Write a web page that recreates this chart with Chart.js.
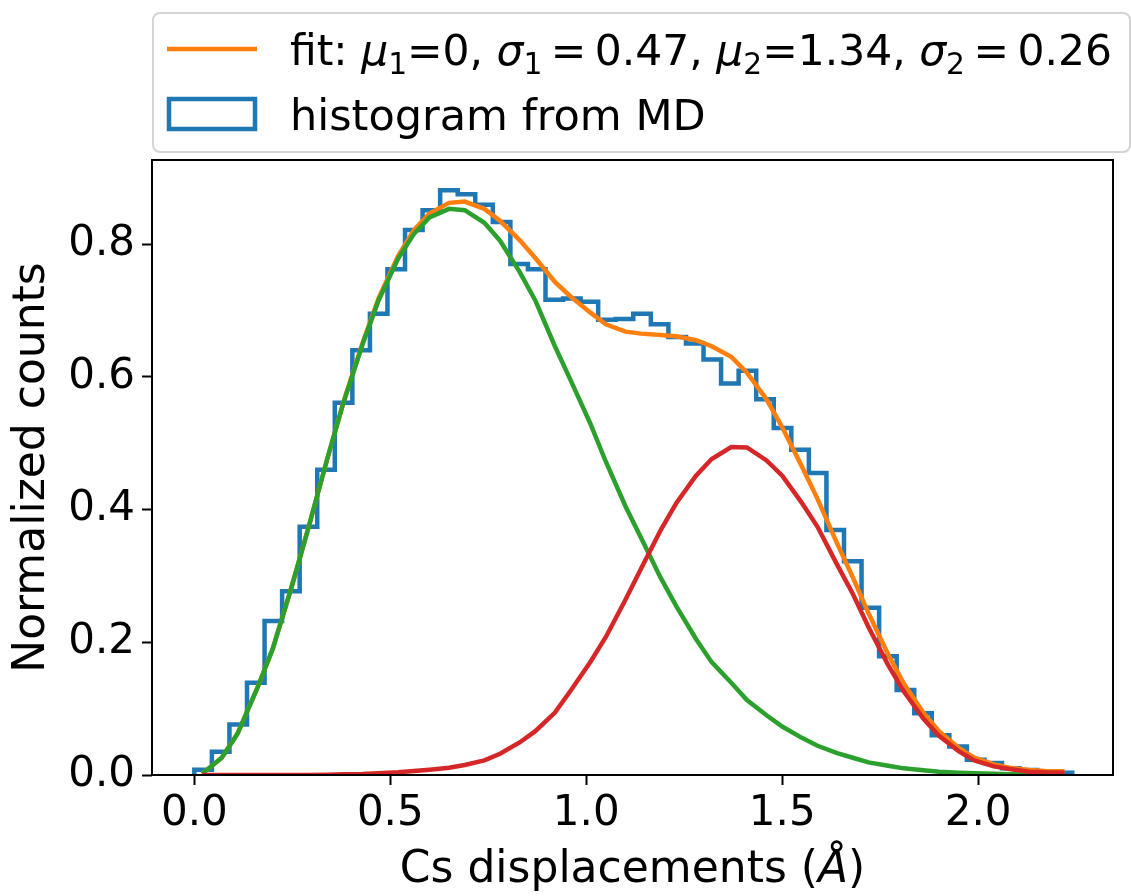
<!DOCTYPE html>
<html>
<head>
<meta charset="utf-8">
<script src="https://cdn.jsdelivr.net/npm/chart.js@4.4.1/dist/chart.umd.min.js"></script>
<style>
  html, body { margin: 0; padding: 0; background: #fff; }
  #wrap { width: 1131px; height: 896px; }
</style>
</head>
<body>
<div id="wrap"><canvas id="histChart" width="1131" height="896"></canvas></div>
<script>
// ── Data ─────────────────────────────────────────────────────
const binEdges = [
  0.0000, 0.0448, 0.0896, 0.1344, 0.1792, 0.2240, 0.2688, 0.3136, 0.3584, 0.4032,
  0.4480, 0.4928, 0.5376, 0.5824, 0.6272, 0.6720, 0.7168, 0.7616, 0.8064, 0.8512,
  0.8960, 0.9408, 0.9856, 1.0304, 1.0752, 1.1200, 1.1648, 1.2096, 1.2544, 1.2992,
  1.3440, 1.3888, 1.4336, 1.4784, 1.5232, 1.5680, 1.6128, 1.6576, 1.7024, 1.7472,
  1.7920, 1.8368, 1.8816, 1.9264, 1.9712, 2.0160, 2.0608, 2.1056, 2.1504, 2.1952,
  2.2400
];
const histCounts = [
  0.008, 0.035, 0.076, 0.139, 0.232, 0.277, 0.374, 0.460, 0.561, 0.640,
  0.695, 0.762, 0.821, 0.851, 0.881, 0.875, 0.859, 0.833, 0.770, 0.762,
  0.716, 0.718, 0.713, 0.686, 0.687, 0.695, 0.679, 0.660, 0.650, 0.626,
  0.590, 0.609, 0.566, 0.523, 0.490, 0.455, 0.369, 0.322, 0.252, 0.179,
  0.128, 0.093, 0.060, 0.043, 0.023, 0.018, 0.010, 0.0075, 0.005, 0.0035
];

// x positions where the fitted curves were sampled
const fitX = [
  0.02, 0.07, 0.11, 0.16, 0.20, 0.25, 0.29, 0.34, 0.38, 0.43,
  0.47, 0.52, 0.56, 0.60, 0.65, 0.69, 0.74, 0.78, 0.83, 0.87,
  0.92, 0.96, 1.01, 1.05, 1.10, 1.14, 1.19, 1.23, 1.28, 1.32,
  1.37, 1.41, 1.46, 1.50, 1.55, 1.59, 1.64, 1.68, 1.72, 1.77,
  1.81, 1.86, 1.90, 1.95, 1.99, 2.04, 2.08, 2.13, 2.17, 2.22
];
const fitTotal = [
  0.002, 0.026, 0.062, 0.130, 0.190, 0.287, 0.370, 0.478, 0.561, 0.652,
  0.718, 0.782, 0.821, 0.846, 0.862, 0.864, 0.853, 0.835, 0.806, 0.779,
  0.743, 0.721, 0.697, 0.679, 0.668, 0.665, 0.663, 0.661, 0.655, 0.646,
  0.630, 0.606, 0.566, 0.524, 0.465, 0.416, 0.349, 0.298, 0.244, 0.182,
  0.138, 0.094, 0.066, 0.041, 0.026, 0.016, 0.011, 0.0075, 0.0062, 0.0055
];
const fitPeak1 = [
  0.002, 0.026, 0.062, 0.130, 0.190, 0.287, 0.370, 0.478, 0.560, 0.650,
  0.715, 0.778, 0.815, 0.840, 0.853, 0.851, 0.832, 0.805, 0.758, 0.715,
  0.646, 0.595, 0.530, 0.472, 0.405, 0.357, 0.297, 0.254, 0.205, 0.170,
  0.139, 0.113, 0.090, 0.073, 0.056, 0.044, 0.033, 0.026, 0.019, 0.014,
  0.010, 0.007, 0.005, 0.0035, 0.0025, 0.0017, 0.0011, 0.0007, 0.0004, 0.0003
];
const fitPeak2 = [
  0.000, 0.000, 0.000, 0.000, 0.000, 0.000, 0.000, 0.0005, 0.001, 0.0015,
  0.0025, 0.004, 0.006, 0.008, 0.011, 0.015, 0.022, 0.032, 0.049, 0.066,
  0.094, 0.127, 0.170, 0.208, 0.264, 0.311, 0.369, 0.410, 0.451, 0.476,
  0.494, 0.4935, 0.474, 0.451, 0.410, 0.374, 0.317, 0.273, 0.223, 0.166,
  0.126, 0.085, 0.059, 0.036, 0.022, 0.013, 0.009, 0.005, 0.004, 0.0035
];

const xTickValues = [0.0, 0.5, 1.0, 1.5, 2.0];
const yTickValues = [0.0, 0.2, 0.4, 0.6, 0.8];

// labels as [text, kind]  kind: '' plain, 'i' italic, 's' subscript
const TS = '\u2009'; // thin space, like mathtext spacing round '='
const FIT_LABEL = [
  ['fit: ', ''], ['\u03bc', 'i'], ['1', 's'], ['=0, ', ''],
  ['\u03c3', 'i'], ['1', 's'], [TS + '=' + TS + '0.47, ', ''],
  ['\u03bc', 'i'], ['2', 's'], ['=1.34, ', ''],
  ['\u03c3', 'i'], ['2', 's'], [TS + '=' + TS + '0.26', '']
];
const HIST_LABEL = [['histogram from MD', '']];
const X_TITLE = [['Cs displacements (', ''], ['\u00c5', 'i'], [')', '']];

// ── Style ────────────────────────────────────────────────────
const FONT = "'DejaVu Sans', sans-serif";
const C_BLUE   = '#1f77b4';
const C_ORANGE = '#ff7f0e';
const C_GREEN  = '#2ca02c';
const C_RED    = '#d62728';
const LW = 4.5;

// step outline of the histogram (matplotlib histtype='step')
const histPts = [{ x: binEdges[0], y: 0 }];
histCounts.forEach((h, i) => {
  histPts.push({ x: binEdges[i], y: h }, { x: binEdges[i + 1], y: h });
});
histPts.push({ x: binEdges[binEdges.length - 1], y: 0 });

const toPts = (ys) => fitX.map((x, i) => ({ x: x, y: ys[i] }));

function fontFor(kind, size) {
  const fs = kind === 's' ? size * 0.7 : size;
  return (kind === 'i' ? 'italic ' : '') + fs + 'px ' + FONT;
}
function mathWidth(ctx, parts, size) {
  return parts.reduce((w, [txt, kind]) => {
    ctx.font = fontFor(kind, size);
    return w + ctx.measureText(txt).width;
  }, 0);
}
// draws rich text starting at x; squeezes it horizontally if wider than maxW
function drawMath(ctx, parts, x, y, size, maxW) {
  const w = mathWidth(ctx, parts, size);
  const k = maxW && w > maxW ? maxW / w : 1;
  ctx.save();
  ctx.translate(x, y);
  ctx.scale(k, 1);
  let cx = 0;
  parts.forEach(([txt, kind]) => {
    ctx.font = fontFor(kind, size);
    ctx.fillText(txt, cx, kind === 's' ? size * 0.2 : 0);
    cx += ctx.measureText(txt).width;
  });
  ctx.restore();
}

// frame around the axes, x title and legend box above the axes
const mplDecor = {
  id: 'mplDecor',
  afterDatasetsDraw(chart) {
    const { ctx, chartArea: a } = chart;
    ctx.save();
    ctx.strokeStyle = '#000';
    ctx.lineWidth = 2;
    ctx.strokeRect(a.left, a.top, a.right - a.left, a.bottom - a.top);
    ctx.restore();
  },
  afterDraw(chart) {
    const { ctx, chartArea: a } = chart;
    ctx.save();
    ctx.fillStyle = '#000';
    ctx.textBaseline = 'alphabetic';
    const tw = mathWidth(ctx, X_TITLE, 44);
    drawMath(ctx, X_TITLE, (a.left + a.right) / 2 - tw / 2, 882, 44);

    ctx.beginPath();
    ctx.roundRect(153, 13, 977, 139, 7);
    ctx.fillStyle = '#fff';
    ctx.fill();
    ctx.strokeStyle = '#d4d4d4';
    ctx.lineWidth = 2;
    ctx.stroke();

    // fit line sample
    ctx.strokeStyle = C_ORANGE;
    ctx.lineWidth = LW;
    ctx.beginPath();
    ctx.moveTo(167, 49);
    ctx.lineTo(257, 49);
    ctx.stroke();
    // histogram patch sample
    ctx.strokeStyle = C_BLUE;
    ctx.strokeRect(169, 99, 86, 30);

    ctx.fillStyle = '#000';
    drawMath(ctx, FIT_LABEL, 290, 65, 43, 822);
    drawMath(ctx, HIST_LABEL, 290, 130, 43);
    ctx.restore();
  }
};

new Chart(document.getElementById('histChart'), {
  type: 'scatter',
  data: {
    datasets: [
      { label: 'fit', data: toPts(fitTotal), borderColor: C_ORANGE, order: 3 },
      { label: 'peak 1', data: toPts(fitPeak1), borderColor: C_GREEN, order: 2 },
      { label: 'peak 2', data: toPts(fitPeak2), borderColor: C_RED, order: 1 },
      { label: 'histogram from MD', data: histPts, borderColor: C_BLUE, order: 4,
        borderJoinStyle: 'miter' }
    ].map(ds => Object.assign({
      showLine: true, pointRadius: 0, borderWidth: LW, tension: 0,
      backgroundColor: 'transparent', fill: false
    }, ds))
  },
  options: {
    responsive: false,
    animation: false,
    devicePixelRatio: 1,
    layout: { padding: { top: 160, right: 18, left: 0, bottom: 0 } },
    plugins: { legend: { display: false }, tooltip: { enabled: false } },
    scales: {
      x: {
        type: 'linear',
        min: -0.108,
        max: 2.344,
        afterFit: (s) => { s.height = 121; },
        afterBuildTicks: (s) => { s.ticks = xTickValues.map(v => ({ value: v })); },
        grid: { drawOnChartArea: false, color: '#000', tickLength: 10, tickWidth: 2 },
        border: { display: false },
        ticks: {
          color: '#000', padding: 4, maxRotation: 0,
          font: { family: FONT, size: 42 },
          callback: (v) => v.toFixed(1)
        },
        title: { display: false }
      },
      y: {
        type: 'linear',
        min: 0,
        max: 0.9266,
        afterFit: (s) => { s.width = 152; },
        afterBuildTicks: (s) => { s.ticks = yTickValues.map(v => ({ value: v })); },
        grid: { drawOnChartArea: false, color: '#000', tickLength: 10, tickWidth: 2 },
        border: { display: false },
        ticks: {
          color: '#000', padding: 7,
          font: { family: FONT, size: 42 },
          callback: (v) => v.toFixed(1)
        },
        title: {
          display: true, text: 'Normalized counts', color: '#000',
          font: { family: FONT, size: 44 }, padding: { top: 6, bottom: 0 }
        }
      }
    }
  },
  plugins: [mplDecor]
});
</script>
</body>
</html>
